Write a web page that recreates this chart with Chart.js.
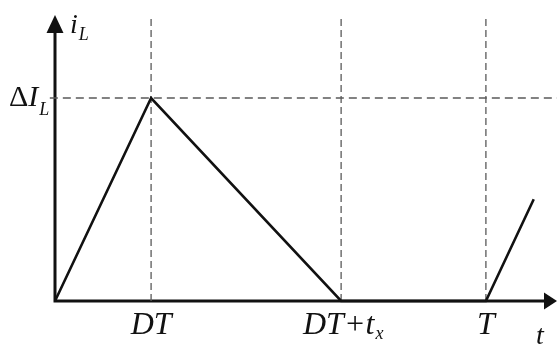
<!DOCTYPE html>
<html>
<head>
<meta charset="utf-8">
<script src="https://cdn.jsdelivr.net/npm/chart.js@4/dist/chart.umd.min.js"></script>
<style>
  html, body { margin: 0; padding: 0; background: #fff; }
  canvas { display: block; }
</style>
</head>
<body>
<canvas id="il-chart" width="557" height="344"></canvas>
<script>
// inductor current over one switching period (T = 1, peak = ΔI_L = 1)
const tDT = 0.223;
const tOff = 0.664;
const tPeriod = 1.0;
const peak = 1.0;

const waveX = [0, tDT, tOff, tPeriod, 1.111];
const waveY = [0, peak, 0, 0, 0.501];

// marker labels under the time axis
const tickValues = [tDT, tOff, tPeriod];
const tickLabels = ['DT', 'DT+t_x', 'T'];

const xMax = 1.165;
const yMax = 1.409;

const serif = '"Times New Roman", "Liberation Serif", serif';
const ink = '#111';
const guide = '#5a5a5a';

function vGuide(x) {
    return {
        data: [{ x: x, y: 0 }, { x: x, y: yMax }],
        borderColor: guide,
        borderWidth: 1.3,
        borderDash: [7, 4],
        pointRadius: 0,
        showLine: true,
        clip: false
    };
}

// axes with arrowheads, drawn under the waveform
const axesPlugin = {
    id: 'axes',
    beforeDatasetsDraw(chart) {
        const ctx = chart.ctx;
        const xs = chart.scales.x, ys = chart.scales.y;
        const x0 = xs.getPixelForValue(0);
        const y0 = ys.getPixelForValue(0);
        const top = ys.getPixelForValue(yMax);
        const right = xs.getPixelForValue(xMax);
        ctx.save();
        ctx.strokeStyle = ink;
        ctx.fillStyle = ink;
        ctx.lineWidth = 3;
        ctx.beginPath();
        ctx.moveTo(x0, y0 + 1.5);
        ctx.lineTo(x0, top + 14);
        ctx.moveTo(x0 - 1.5, y0);
        ctx.lineTo(right - 12, y0);
        ctx.stroke();
        // arrowheads
        ctx.beginPath();
        ctx.moveTo(x0, top);
        ctx.lineTo(x0 - 8.5, top + 18);
        ctx.lineTo(x0 + 8.5, top + 18);
        ctx.closePath();
        ctx.fill();
        ctx.beginPath();
        ctx.moveTo(right, y0);
        ctx.lineTo(right - 13, y0 - 8.5);
        ctx.lineTo(right - 13, y0 + 8.5);
        ctx.closePath();
        ctx.fill();
        ctx.restore();
    }
};

function font(style, size) {
    return style + ' ' + size + 'px ' + serif;
}

// draws "main" with an optional subscript, returns end x
function subText(ctx, main, sub, x, y, size, subSize, subDrop) {
    ctx.font = font('italic', size);
    ctx.fillText(main, x, y);
    let end = x + ctx.measureText(main).width;
    if (sub) {
        ctx.font = font('italic', subSize);
        ctx.fillText(sub, end + 1, y + subDrop);
        end += 1 + ctx.measureText(sub).width;
    }
    return end;
}

const labelPlugin = {
    id: 'labels',
    afterDraw(chart) {
        const ctx = chart.ctx;
        const xs = chart.scales.x, ys = chart.scales.y;
        const x0 = xs.getPixelForValue(0);
        ctx.save();
        ctx.fillStyle = ink;
        ctx.textBaseline = 'alphabetic';
        ctx.textAlign = 'left';

        // axis names
        subText(ctx, 'i', 'L', x0 + 15, 33, 28, 18, 7);
        ctx.font = font('italic', 28);
        ctx.fillText('t', 536, 344);

        // ΔI_L next to the peak level
        const yp = ys.getPixelForValue(peak);
        ctx.font = font('normal', 30);
        ctx.fillText('Δ', 9, yp + 8);
        const dx = ctx.measureText('Δ').width;
        subText(ctx, 'I', 'L', 9 + dx, yp + 8, 30, 18, 9);

        // time markers
        tickLabels.forEach(function(lbl, i) {
            const px = xs.getPixelForValue(tickValues[i]);
            const parts = lbl.split('_');
            ctx.font = font('italic', 32);
            let w = ctx.measureText(parts[0]).width;
            if (parts[1]) {
                ctx.font = font('italic', 18);
                w += 1 + ctx.measureText(parts[1]).width;
            }
            let start = px - w / 2;
            if (i === 1) start = 303;
            subText(ctx, parts[0], parts[1], start, 334, 32, 18, 5);
        });
        ctx.restore();
    }
};

new Chart(document.getElementById('il-chart'), {
    type: 'scatter',
    data: {
        datasets: [
            {
                data: waveX.map(function(x, i) { return { x: x, y: waveY[i] }; }),
                borderColor: ink,
                borderWidth: 2.6,
                pointRadius: 0,
                showLine: true,
                tension: 0,
                clip: false
            },
            {
                data: [{ x: -0.012, y: peak }, { x: xMax, y: peak }],
                borderColor: guide,
                borderWidth: 1.3,
                borderDash: [8, 5],
                pointRadius: 0,
                showLine: true,
                clip: false
            },
            vGuide(tDT),
            vGuide(tOff),
            vGuide(tPeriod)
        ]
    },
    options: {
        responsive: false,
        animation: false,
        layout: { padding: { left: 55, right: 0, top: 15, bottom: 43 } },
        plugins: {
            legend: { display: false },
            tooltip: { enabled: false }
        },
        scales: {
            x: { type: 'linear', min: 0, max: xMax, display: false },
            y: { type: 'linear', min: 0, max: yMax, display: false }
        }
    },
    plugins: [axesPlugin, labelPlugin]
});
</script>
</body>
</html>
